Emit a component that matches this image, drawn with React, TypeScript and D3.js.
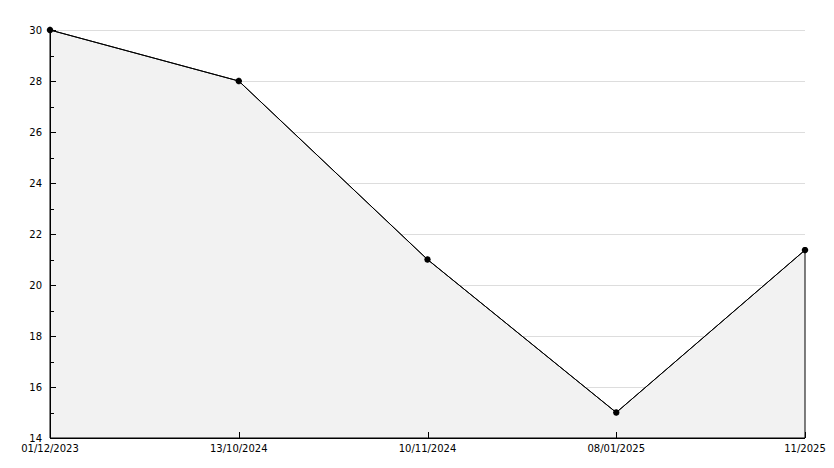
import React from "react";
import * as d3 from "d3";

const categories = ["01/12/2023", "13/10/2024", "10/11/2024", "08/01/2025", "11/2025"];
const values = [30, 28, 21, 15, 21.37];
const yMajorTicks = [14, 16, 18, 20, 22, 24, 26, 28, 30];
const yMinorTicks = [15, 17, 19, 21, 23, 25, 27, 29];

const W = 834;
const H = 468;
const left = 50;
const right = 805;
const top = 30;
const bottom = 438;

export default function App() {
  const x = d3.scalePoint<string>().domain(categories).range([left, right]);
  const y = d3.scaleLinear().domain([14, 30]).range([bottom, top]);
  const pts = categories.map((c, i) => [x(c) as number, y(values[i])] as [number, number]);
  const line = d3.line()(pts) as string;
  const area = d3
    .area<[number, number]>()
    .x((d) => d[0])
    .y0(bottom)
    .y1((d) => d[1])(pts) as string;
  const cross = d3.symbol().type(d3.symbolCross).size(22)() as string;
  const font = "DejaVu Sans, sans-serif";
  return (
    <svg
      width={W}
      height={H}
      style={{ position: "absolute", left: 0, top: 0, background: "#fff" }}
      fontFamily={font}
      fontSize={10}
    >
      {yMajorTicks
        .filter((t) => t !== 14)
        .map((t) => (
          <line key={"g" + t} x1={left} x2={right} y1={y(t) + 0.5} y2={y(t) + 0.5} stroke="#dddddd" />
        ))}
      <path d={area} fill="#f2f2f2" stroke="#000" strokeWidth={1} />
      <path d={line} fill="none" stroke="#000" strokeWidth={1} />
      <line x1={left + 0.5} x2={left + 0.5} y1={top} y2={bottom} stroke="#000" />
      <line x1={left} x2={right} y1={bottom + 0.5} y2={bottom + 0.5} stroke="#000" />
      {yMajorTicks.map((t) => (
        <g key={"y" + t}>
          <line x1={left} x2={left + 6} y1={Math.round(y(t)) + 0.5} y2={Math.round(y(t)) + 0.5} stroke="#000" />
          <text x={42} y={y(t)} dy="0.35em" textAnchor="end" fill="#000">
            {t}
          </text>
        </g>
      ))}
      {yMinorTicks.map((t) => (
        <line key={"m" + t} x1={left} x2={left + 4} y1={Math.round(y(t)) + 0.5} y2={Math.round(y(t)) + 0.5} stroke="#000" />
      ))}
      {categories.map((c) => (
        <g key={c}>
          <line x1={Math.round(x(c) as number) + 0.5} x2={Math.round(x(c) as number) + 0.5} y1={bottom} y2={bottom - 6} stroke="#000" />
          <text x={x(c) as number} y={bottom + 14} textAnchor="middle" fill="#000">
            {c}
          </text>
        </g>
      ))}
      {pts.map((p, i) => (
        <g key={"p" + i} transform={`translate(${p[0]},${p[1]})`} fill="#000">
          <circle r={2.6} />
          <path d={cross} transform="rotate(45)" />
          <path d={cross} />
        </g>
      ))}
    </svg>
  );
}
